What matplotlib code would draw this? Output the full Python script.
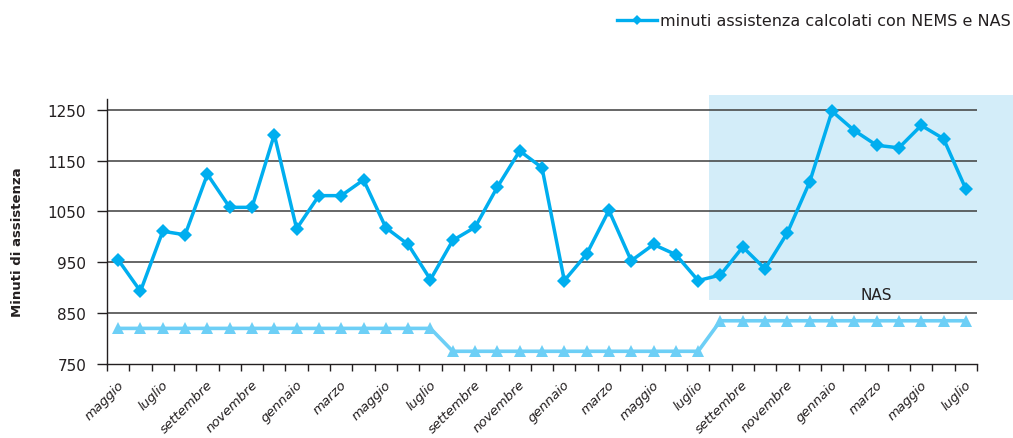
import matplotlib
matplotlib.use("Agg")
import matplotlib.pyplot as plt
from matplotlib.lines import Line2D
from matplotlib.patches import Rectangle

months = ["maggio", "giugno", "luglio", "agosto", "settembre", "ottobre",
          "novembre", "dicembre", "gennaio", "febbraio", "marzo", "aprile"]
categories = [months[i % 12] for i in range(39)]

nems_nas = [955, 893, 1011, 1004, 1123, 1058, 1058, 1201, 1016, 1081,
            1081, 1112, 1018, 985, 916, 993, 1019, 1098, 1169, 1136,
            914, 966, 1052, 953, 985, 965, 914, 925, 980, 937,
            1008, 1108, 1247, 1209, 1180, 1175, 1219, 1193, 1094]
baseline = [820] * 15 + [775] * 12 + [835] * 12

yticks = [750, 850, 950, 1050, 1150, 1250]
legend_label = "minuti assistenza calcolati con NEMS e NAS"
ylabel = "Minuti di assistenza"
nas_label = "NAS"

FONT = "DejaVu Sans"
DARK = "#231f20"
BLUE = "#00aeef"
LIGHT = "#6dcff6"
SHADE = "#d3edf9"

fig = plt.figure(figsize=(10.13, 4.39), dpi=100)
ax = fig.add_axes([107 / 1013, 1 - 365 / 439, 870 / 1013, 265 / 439])

x = list(range(len(categories)))
ax.set_xlim(-0.5, len(categories) - 0.5)
ax.set_ylim(750, 1271)

# NAS shaded region (extends beyond axes to figure right edge)
rect = Rectangle((26.5, 876), 45, 1278 - 876, transform=ax.transData,
                 facecolor=SHADE, edgecolor="none", zorder=0, clip_on=False)
ax.add_patch(rect)

for yv in yticks[1:]:
    ax.axhline(yv, color="#3d3d3d", lw=1.1, zorder=1)

ax.plot(x, baseline, color=LIGHT, lw=2.6, marker="^", markersize=8.5,
        markeredgewidth=0, zorder=2)
ax.plot(x, nems_nas, color=BLUE, lw=2.5, marker="D", markersize=7,
        markeredgewidth=0, zorder=3)

ax.text(34.0, 887, nas_label, fontsize=11, color=DARK, ha="center",
        va="center", family=FONT, zorder=4)

for s in ["top", "right"]:
    ax.spines[s].set_visible(False)
ax.spines["left"].set_color(DARK)
ax.spines["bottom"].set_color(DARK)
ax.spines["left"].set_linewidth(1.0)
ax.spines["bottom"].set_linewidth(1.0)

ax.set_yticks(yticks)
ax.set_yticklabels([str(v) for v in yticks], fontsize=11, color=DARK,
                   family=FONT)
ax.tick_params(axis="y", length=7, width=1.0, color=DARK, pad=8)

ax.set_xticks([i - 0.5 for i in range(len(categories) + 1)])
ax.set_xticklabels([])
ax.tick_params(axis="x", length=5, width=1.0, color=DARK, direction="out")

for i in range(0, len(categories), 2):
    ax.text(i - 0.05, 723, categories[i], rotation=45, ha="right", va="top",
            rotation_mode="anchor", fontsize=9.5, style="italic",
            color=DARK, family=FONT, transform=ax.transData, clip_on=False)

fig.text(18 / 1013, 1 - 242 / 439, ylabel, rotation=90, ha="center",
         va="center", fontsize=9.5, fontweight="bold", color=DARK, family=FONT)

handle = Line2D([], [], color=BLUE, lw=2.4, marker="D", markersize=5,
                markeredgewidth=0)
leg = fig.legend([handle], [legend_label], loc="center right",
                 bbox_to_anchor=(1025 / 1013, 1 - 22 / 439), frameon=False,
                 handlelength=2.5, handletextpad=0.2,
                 prop={"family": FONT, "size": 11.5})
for t in leg.get_texts():
    t.set_color(DARK)

fig.savefig("out.png", dpi=100)
